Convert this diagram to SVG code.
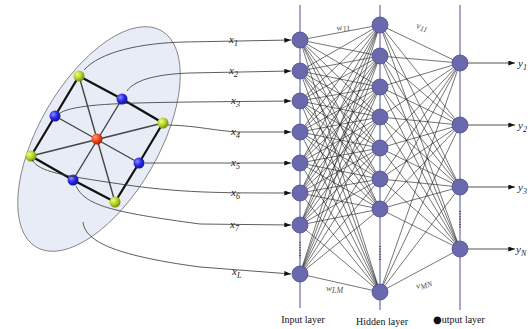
<svg xmlns="http://www.w3.org/2000/svg" width="528" height="329" viewBox="0 0 528 329">
<style>
.axis{stroke:#6a6ab8;stroke-width:1.2;fill:none}
.conn{stroke:#1a1a1a;stroke-width:0.6;fill:none}
.feed{stroke:#333;stroke-width:0.8;fill:none}
.out{stroke:#555;stroke-width:1;fill:none}
.nn{fill:#6b69ad;stroke:#4e4c8e;stroke-width:0.8}
.edge{stroke:#111;stroke-width:2.2;stroke-linecap:round}
.spoke{stroke:#444;stroke-width:1.4}
.lab{font-family:"Liberation Serif",serif;font-style:italic;font-size:11px;fill:#222}
.sub{font-size:8px}
.wl{font-family:"Liberation Serif",serif;font-style:italic;font-size:9px;fill:#555}
.ly{font-family:"Liberation Serif",serif;font-size:10px;fill:#111}
.dots{stroke:#444;stroke-width:1.6;stroke-dasharray:1 1.6}
</style>
<defs>
<marker id="ah" viewBox="0 0 8 6" refX="8" refY="3" markerWidth="7" markerHeight="5" markerUnits="userSpaceOnUse" orient="auto">
<path d="M0 0L8 3L0 6z" fill="#111"/>
</marker>
<radialGradient id="gb" cx="0.35" cy="0.35" r="0.7"><stop offset="0" stop-color="#8a8aff"/><stop offset="0.5" stop-color="#2a2ae8"/><stop offset="1" stop-color="#101090"/></radialGradient>
<radialGradient id="gg" cx="0.35" cy="0.35" r="0.7"><stop offset="0" stop-color="#f0ff90"/><stop offset="0.5" stop-color="#b8d42a"/><stop offset="1" stop-color="#6a8a10"/></radialGradient>
<radialGradient id="gr" cx="0.35" cy="0.35" r="0.7"><stop offset="0" stop-color="#ffa080"/><stop offset="0.5" stop-color="#f04a1a"/><stop offset="1" stop-color="#a02000"/></radialGradient>
</defs>
<rect width="528" height="329" fill="#fff"/>

<g id="graph">
<ellipse cx="99" cy="139" rx="125" ry="60" transform="rotate(-60 99 139)" fill="#e7ecf6" stroke="#666" stroke-width="0.7"/>
<g id="spokes">
<line class="spoke" x1="79" y1="76" x2="115" y2="202"/>
<line class="spoke" x1="31" y1="156" x2="163" y2="123"/>
<line class="spoke" x1="55" y1="116" x2="139" y2="163"/>
<line class="spoke" x1="122" y1="99" x2="73" y2="180"/>
</g>
<path class="edge" fill="none" d="M79 76L122 99L163 123L139 163L115 202L73 180L31 156L55 116Z"/>
<g id="gnodes">
<circle id="g1" cx="79" cy="76" r="5.5" fill="url(#gg)"/>
<circle id="g2" cx="122" cy="99" r="5.5" fill="url(#gb)"/>
<circle id="g3" cx="55" cy="116" r="5.5" fill="url(#gb)"/>
<circle id="g4" cx="163" cy="123" r="5.5" fill="url(#gg)"/>
<circle id="g5" cx="97" cy="139" r="5.5" fill="url(#gr)"/>
<circle id="g6" cx="31" cy="156" r="5.5" fill="url(#gg)"/>
<circle id="g7" cx="139" cy="163" r="5.5" fill="url(#gb)"/>
<circle id="g8" cx="73" cy="180" r="5.5" fill="url(#gb)"/>
<circle id="g9" cx="115" cy="202" r="5.5" fill="url(#gg)"/>
</g>
</g>

<g id="axes">
<line class="axis" x1="300" y1="5" x2="300" y2="308"/>
<line class="axis" x1="380" y1="5" x2="380" y2="310"/>
<line class="axis" x1="460" y1="5" x2="460" y2="310"/>
</g>

<g id="connectors">
<path class="conn" d="M300 40L380 25M300 40L380 56M300 40L380 87M300 40L380 117M300 40L380 148M300 40L380 179M300 40L380 209M300 40L380 292"/>
<path class="conn" d="M300 71L380 25M300 71L380 56M300 71L380 87M300 71L380 117M300 71L380 148M300 71L380 179M300 71L380 209M300 71L380 292"/>
<path class="conn" d="M300 101L380 25M300 101L380 56M300 101L380 87M300 101L380 117M300 101L380 148M300 101L380 179M300 101L380 209M300 101L380 292"/>
<path class="conn" d="M300 132L380 25M300 132L380 56M300 132L380 87M300 132L380 117M300 132L380 148M300 132L380 179M300 132L380 209M300 132L380 292"/>
<path class="conn" d="M300 163L380 25M300 163L380 56M300 163L380 87M300 163L380 117M300 163L380 148M300 163L380 179M300 163L380 209M300 163L380 292"/>
<path class="conn" d="M300 193L380 25M300 193L380 56M300 193L380 87M300 193L380 117M300 193L380 148M300 193L380 179M300 193L380 209M300 193L380 292"/>
<path class="conn" d="M300 225L380 25M300 225L380 56M300 225L380 87M300 225L380 117M300 225L380 148M300 225L380 179M300 225L380 209M300 225L380 292"/>
<path class="conn" d="M300 274L380 25M300 274L380 56M300 274L380 87M300 274L380 117M300 274L380 148M300 274L380 179M300 274L380 209M300 274L380 292"/>
<path class="conn" d="M380 25L460 63M380 25L460 125M380 25L460 187M380 25L460 249"/>
<path class="conn" d="M380 56L460 63M380 56L460 125M380 56L460 187M380 56L460 249"/>
<path class="conn" d="M380 87L460 63M380 87L460 125M380 87L460 187M380 87L460 249"/>
<path class="conn" d="M380 117L460 63M380 117L460 125M380 117L460 187M380 117L460 249"/>
<path class="conn" d="M380 148L460 63M380 148L460 125M380 148L460 187M380 148L460 249"/>
<path class="conn" d="M380 179L460 63M380 179L460 125M380 179L460 187M380 179L460 249"/>
<path class="conn" d="M380 209L460 63M380 209L460 125M380 209L460 187M380 209L460 249"/>
<path class="conn" d="M380 292L460 63M380 292L460 125M380 292L460 187M380 292L460 249"/>
<path class="feed" marker-end="url(#ah)" d="M84 70C100 52 140 43 185 42L291 40"/>
<path class="feed" marker-end="url(#ah)" d="M127 91C135 79 160 74 190 73L291 71"/>
<path class="feed" marker-end="url(#ah)" d="M60 113C75 104 120 103 190 102L291 101"/>
<path class="feed" marker-end="url(#ah)" d="M168 125C200 126 215 131 240 132L291 132"/>
<path class="feed" marker-end="url(#ah)" d="M145 163L291 163"/>
<path class="feed" marker-end="url(#ah)" d="M32 160C40 172 60 175 120 184S220 193 291 193"/>
<path class="feed" marker-end="url(#ah)" d="M76 186C85 205 110 212 200 224L291 225"/>
<path class="feed" marker-end="url(#ah)" d="M83 222C85 240 110 255 200 267L291 274"/>
<path class="out" marker-end="url(#ah)" d="M468 63L515 63"/>
<path class="out" marker-end="url(#ah)" d="M468 125L515 125"/>
<path class="out" marker-end="url(#ah)" d="M468 187L515 187"/>
<path class="out" marker-end="url(#ah)" d="M468 249L515 249"/>
</g>

<g id="input-layer">
<circle class="nn" cx="300" cy="40" r="8"/>
<circle class="nn" cx="300" cy="71" r="8"/>
<circle class="nn" cx="300" cy="101" r="8"/>
<circle class="nn" cx="300" cy="132" r="8"/>
<circle class="nn" cx="300" cy="163" r="8"/>
<circle class="nn" cx="300" cy="193" r="8"/>
<circle class="nn" cx="300" cy="225" r="8"/>
<circle class="nn" cx="300" cy="274" r="8"/>
<line class="dots" x1="300" y1="242" x2="300" y2="258"/>
</g>
<g id="hidden-layer">
<circle class="nn" cx="380" cy="25" r="8"/>
<circle class="nn" cx="380" cy="56" r="8"/>
<circle class="nn" cx="380" cy="87" r="8"/>
<circle class="nn" cx="380" cy="117" r="8"/>
<circle class="nn" cx="380" cy="148" r="8"/>
<circle class="nn" cx="380" cy="179" r="8"/>
<circle class="nn" cx="380" cy="209" r="8"/>
<circle class="nn" cx="380" cy="292" r="8"/>
<line class="dots" x1="380" y1="246" x2="380" y2="261"/>
</g>
<g id="output-layer">
<circle class="nn" cx="460" cy="63" r="8"/>
<circle class="nn" cx="460" cy="125" r="8"/>
<circle class="nn" cx="460" cy="187" r="8"/>
<circle class="nn" cx="460" cy="249" r="8"/>
<line class="dots" x1="460" y1="211" x2="460" y2="228"/>
</g>

<g id="labels">
<text class="lab" x="229" y="43">x<tspan class="sub" dy="3">1</tspan></text>
<text class="lab" x="229" y="74">x<tspan class="sub" dy="3">2</tspan></text>
<text class="lab" x="231" y="104">x<tspan class="sub" dy="3">3</tspan></text>
<text class="lab" x="231" y="135">x<tspan class="sub" dy="3">4</tspan></text>
<text class="lab" x="231" y="166">x<tspan class="sub" dy="3">5</tspan></text>
<text class="lab" x="231" y="196">x<tspan class="sub" dy="3">6</tspan></text>
<text class="lab" x="230" y="228">x<tspan class="sub" dy="3">7</tspan></text>
<text class="lab" x="232" y="275">x<tspan class="sub" dy="3">L</tspan></text>
<text class="lab" x="518" y="67">y<tspan class="sub" dy="3">1</tspan></text>
<text class="lab" x="518" y="129">y<tspan class="sub" dy="3">2</tspan></text>
<text class="lab" x="518" y="191">y<tspan class="sub" dy="3">3</tspan></text>
<text class="lab" x="516" y="253">y<tspan class="sub" dy="3">N</tspan></text>
<text class="wl" x="337" y="31" transform="rotate(-11 337 31)">w<tspan class="sub" dy="2">11</tspan></text>
<text class="wl" x="416" y="28" transform="rotate(12 416 28)">v<tspan class="sub" dy="2">11</tspan></text>
<text class="wl" x="326" y="291">w<tspan class="sub" dy="2">LM</tspan></text>
<text class="wl" x="417" y="289" transform="rotate(-18 417 289)">v<tspan class="sub" dy="2">MN</tspan></text>
<text class="ly" x="303" y="323" text-anchor="middle">Input layer</text>
<text class="ly" x="382" y="325" text-anchor="middle">Hidden layer</text>
<text class="ly" x="459" y="323" text-anchor="middle"><tspan font-family="DejaVu Sans, sans-serif" font-size="10px">●</tspan>utput layer</text>
</g>
</svg>
